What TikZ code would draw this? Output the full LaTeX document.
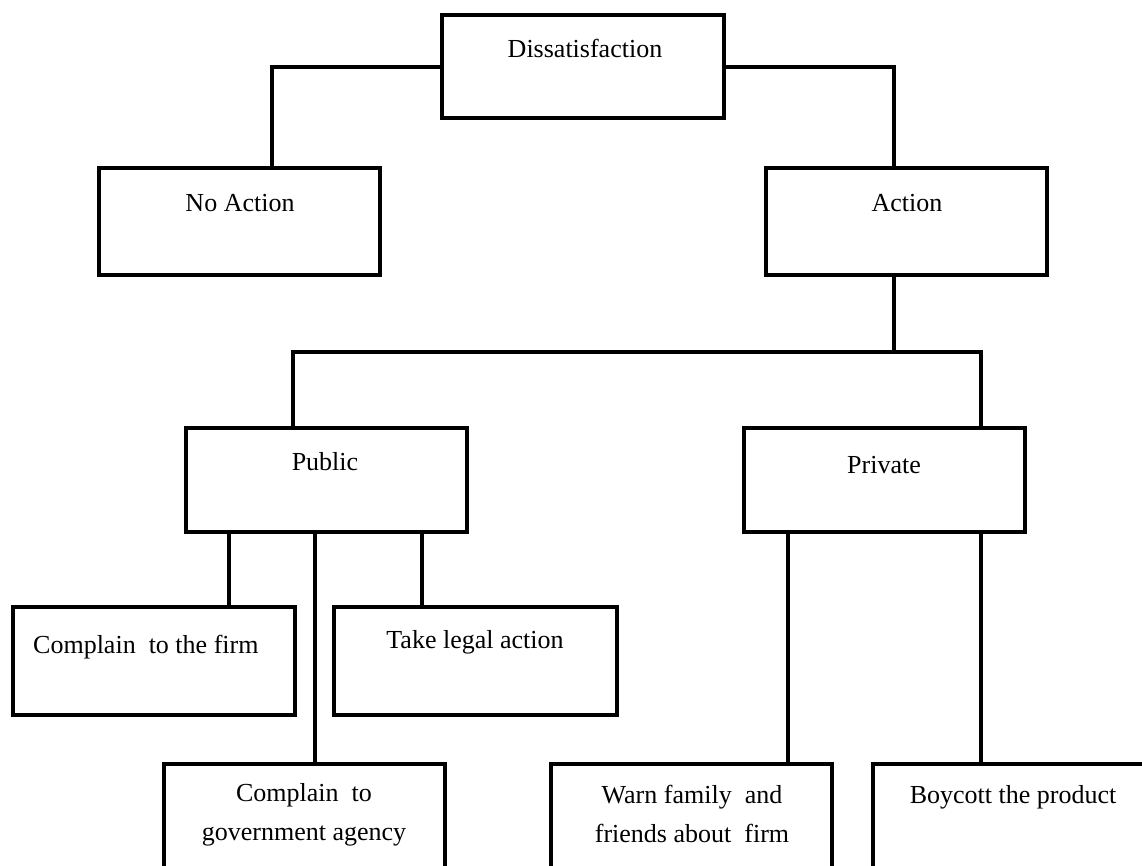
\documentclass[tikz,border=0pt]{standalone}
\usepackage{fontspec}
\setmainfont{Liberation Serif}
\begin{document}
\begin{tikzpicture}[x=1pt,y=-1pt,
  box/.style={draw, line width=4pt, rectangle, inner sep=0pt,
    minimum width=281pt, minimum height=105pt},
  txt/.style={font=\fontsize{26}{39}\selectfont, align=center, inner sep=0pt},
  conn/.style={line width=4pt}]
\useasboundingbox (0,0) rectangle (1142,865);
\clip (0,0) rectangle (1142,865);
% boxes
\node[box, minimum width=282pt, minimum height=103pt] (dis) at (583,66.5) {};
\node[box, minimum height=107pt] (noact) at (239.5,221.5) {};
\node[box, minimum height=107pt] (act) at (906.5,221.5) {};
\node[box, minimum height=104pt] (pub) at (326,480) {};
\node[box, minimum height=104pt] (priv) at (884,480) {};
\node[box, minimum width=282pt, minimum height=108pt] (firm) at (154,661) {};
\node[box, minimum width=283pt, minimum height=108pt] (legal) at (475.5,661) {};
\node[box] (gov) at (304.5,816.5) {};
\node[box] (warn) at (691.5,816.5) {};
\node[box] (boy) at (1013.5,816.5) {};
% texts
\node[txt] (tdis) at (585,48) {Dissatisfaction};
\node[txt] (tnoact) at (240,203) {No Action};
\node[txt] (tact) at (907,203) {Action};
\node[txt] (tpub) at (325,462) {Public};
\node[txt] (tpriv) at (884,465) {Private};
\node[txt, anchor=west] (tfirm) at (33,647) {Complain\ \ to the firm};
\node[txt] (tlegal) at (475,642) {Take legal action};
\node[txt] (tgov) at (304,814.5) {Complain\ \ to\\government agency};
\node[txt] (twarn) at (692,813.5) {Warn family\ \ and\\friends about\ \ firm};
\node[txt] (tboy) at (1013,797) {Boycott the product};
% connectors
\coordinate (bus) at (894,352);
\draw[conn] (dis.west) -| ([xshift=32.5pt]noact.north);
\draw[conn] (dis.east) -| ([xshift=-12.5pt]act.north);
\draw[conn] ([xshift=-12.5pt]act.south) -- (bus);
\draw[conn] ([xshift=-33pt]pub.north) |- (bus) -| ([xshift=97pt]priv.north);
\draw[conn] ([xshift=75pt]firm.north) -- ([xshift=75pt]firm.north |- pub.south);
\draw[conn] ([xshift=10.5pt]gov.north) -- ([xshift=10.5pt]gov.north |- pub.south);
\draw[conn] ([xshift=-53.5pt]legal.north) -- ([xshift=-53.5pt]legal.north |- pub.south);
\draw[conn] ([xshift=96.5pt]warn.north) -- ([xshift=96.5pt]warn.north |- priv.south);
\draw[conn] ([xshift=-32.5pt]boy.north) -- ([xshift=-32.5pt]boy.north |- priv.south);
\end{tikzpicture}
\end{document}
